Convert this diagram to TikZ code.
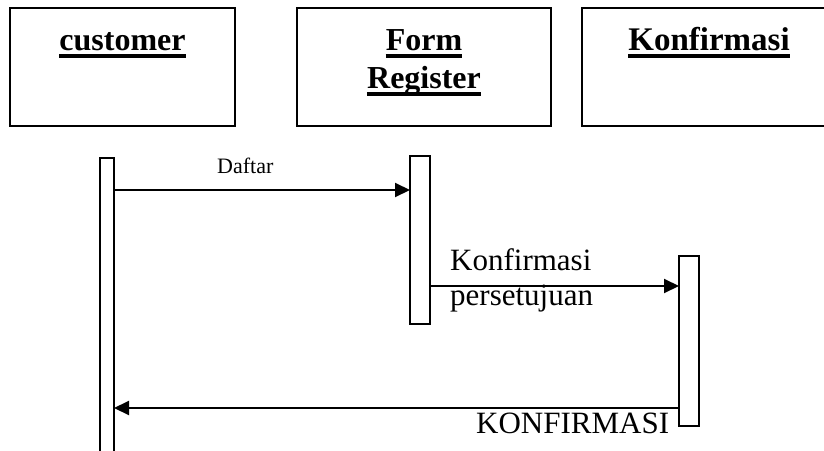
\documentclass[tikz,border=0pt]{standalone}
\usepackage{fontspec}
\setmainfont{Liberation Serif}
\usetikzlibrary{arrows.meta}

\tikzset{
  objbox/.style={draw, line width=2pt, inner sep=0pt, outer sep=0pt},
  actbox/.style={draw, line width=1.6pt, fill=white, inner sep=0pt, outer sep=0pt},
  title/.style={font=\bfseries\fontsize{32}{36}\selectfont, inner sep=0pt, anchor=base},
  uline/.style={line width=3.5pt},
  msg/.style={line width=2pt, -{Triangle[length=15pt,width=14pt]}},
  lbl/.style={font=\fontsize{31}{36}\selectfont, inner sep=0pt, anchor=base west},
  smalllbl/.style={font=\fontsize{22}{26}\selectfont, inner sep=0pt, anchor=base west}
}

\begin{document}
\begin{tikzpicture}[x=1pt, y=-1pt]
  \useasboundingbox (0,0) rectangle (824,450);
  \clip (0,0) rectangle (824,450);

  % object boxes (the third one runs past the right edge)
  \node[objbox, minimum width=225pt, minimum height=118pt] (obj1) at (122.5,67) {};
  \node[objbox, minimum width=254pt, minimum height=118pt] (obj2) at (424,67) {};
  \node[objbox, minimum width=290pt, minimum height=118pt] (obj3) at (727,67) {};

  % underlined object names
  \node[title] (t1) at (122.5,50) {customer};
  \node[title] (t2a) at (424,50) {Form};
  \node[title] (t2b) at (424,88) {Register};
  \node[title, font=\bfseries\fontsize{33}{36}\selectfont] (t3) at (709,50) {Konfirmasi};
  \foreach \t in {t1,t2a,t2b,t3}
    \draw[uline] ([yshift=-6pt]\t.base west) -- ([yshift=-6pt]\t.base east);

  % activation bars
  \node[actbox, minimum width=14pt, minimum height=312pt] (act1) at (107,314) {};
  \node[actbox, minimum width=20pt, minimum height=168pt] (act2) at (420,240) {};
  \node[actbox, minimum width=20pt, minimum height=170pt] (act3) at (689,341) {};

  % message levels
  \coordinate (m1) at (0,190);
  \coordinate (m2) at (0,286);
  \coordinate (m3) at (0,408);

  % messages
  \draw[msg] (act1.east |- m1) -- (act2.west |- m1);
  \draw[msg] (act2.east |- m2) -- (act3.west |- m2);
  \draw[msg] (act3.west |- m3) -- (act1.east |- m3);

  % message labels
  \node[smalllbl] (l1) at (217,173) {Daftar};
  \node[lbl] (l2a) at (450,270) {Konfirmasi};
  \node[lbl] (l2b) at (450,305) {persetujuan};
  \node[lbl] (l3) at (476,433) {KONFIRMASI};
\end{tikzpicture}
\end{document}
